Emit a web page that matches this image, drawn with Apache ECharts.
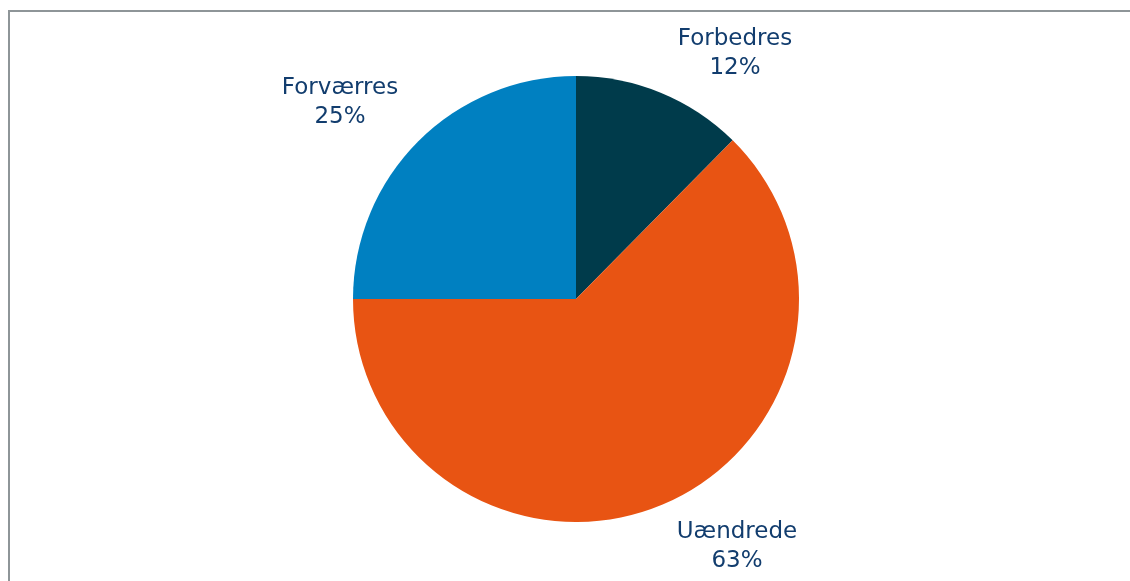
<!DOCTYPE html>
<html><head><meta charset="utf-8">
<script src="https://cdn.jsdelivr.net/npm/echarts@6/dist/echarts.min.js"></script>
<style>
html,body{margin:0;padding:0;background:#fff;}
#frame{position:absolute;left:8px;top:10px;width:1130px;height:600px;border-left:2px solid #8e9598;border-top:2px solid #8e9598;box-sizing:border-box;}
#chart{position:absolute;left:0;top:0;width:1130px;height:581px;}
</style></head>
<body>
<div id="frame"></div>
<div id="chart"></div>
<script>
const categories = ["Forbedres", "Uændrede", "Forværres"];
const values = [12.4, 62.6, 25.0];
const colors = ["#003b4b", "#e85413", "#0080c1"];

// label block centres (layout only)
const labelPos = {
  "Forbedres": [735, 54],
  "Uændrede": [737, 547],
  "Forværres": [340, 103]
};

const chart = echarts.init(document.getElementById('chart'));
chart.setOption({
  animation: false,
  series: [{
    type: 'pie',
    center: [576, 299],
    radius: 223,
    startAngle: 90,
    clockwise: true,
    data: categories.map((c, i) => ({name: c, value: values[i], itemStyle: {color: colors[i]}})),
    label: {
      show: true,
      position: 'outside',
      formatter: p => p.name + '\n' + Math.round(p.percent) + '%',
      color: '#123d6e',
      fontFamily: 'DejaVu Sans, Verdana, sans-serif',
      fontSize: 23,
      lineHeight: 29,
      align: 'center'
    },
    labelLine: {show: false},
    labelLayout: function (p) {
      const pos = labelPos[categories[p.dataIndex]];
      return {x: pos[0], y: pos[1], align: 'center', verticalAlign: 'middle', hideOverlap: false};
    },
    emphasis: {disabled: true}
  }]
});
</script>
</body></html>
